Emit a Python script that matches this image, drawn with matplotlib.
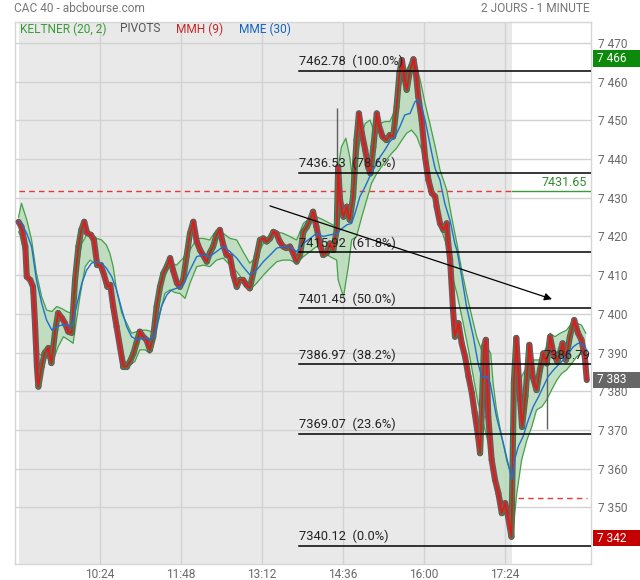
import matplotlib
matplotlib.use('Agg')
import matplotlib.pyplot as plt
import matplotlib.transforms as mtrans
from matplotlib.patches import Rectangle
from matplotlib.collections import LineCollection
import numpy as np

plt.rcParams['font.family'] = ['Roboto', 'DejaVu Sans']

# ---------------- data (minutes after 09:00, index points) ----------------
price_t = [0, 3, 7, 8.5, 12, 15, 17, 19, 20.5, 24, 27, 31, 34, 38, 41, 45, 48, 51.5, 55, 58.5,
           62, 65, 68, 71, 75, 78, 81.5, 85, 88.5, 92, 95, 98, 101.5, 105, 108.5, 112, 115.5, 119,
           122, 125.5, 129, 132.5, 136, 139.5, 143, 146.5, 150, 153.5, 157, 160, 164, 167, 170.5,
           174, 177.5, 181, 184.5, 188, 191, 195, 198, 201.5, 205, 208.5, 212, 215.5, 219, 222.5,
           226, 229, 232.5, 236, 239.5, 243, 246.5, 250, 253.5, 257, 260.5, 264, 267, 270.5, 274,
           277.5, 281, 284.5, 288, 291.5, 295, 298.5, 302, 305, 308.5, 312, 315.5, 319, 322.5, 326,
           329.5, 331, 333, 336.5, 340, 343, 346.5, 350, 352.5, 355.5, 359, 362, 364.5, 367.5, 371,
           373.5, 377, 381, 384.5, 388, 391.5, 394.5, 397, 399, 402, 405.5, 409, 411.5, 414, 417.5,
           421, 424.5, 428, 431.5, 433, 436.5, 440, 443.5, 445, 447, 450, 452, 455.5, 459, 462.5,
           466, 469.5, 472.5, 476, 478, 479.5, 482, 484, 486.5, 490, 493.5, 497, 500.5, 504, 507,
           510.5, 513, 515.5, 519.5, 521.5, 525, 529, 532.5, 536.5, 540, 543.5, 547, 550.5, 554,
           558, 563.5, 567, 571, 575.5, 579.5, 583, 586.5, 588.5]
price_v = [7423.8, 7422.5, 7417.4, 7409.6, 7408.8, 7407.0, 7397.6, 7386.4, 7381.2, 7386.4, 7389.9,
           7391.2, 7387.3, 7395.8, 7400.2, 7398.9, 7397.6, 7395.4, 7395.1, 7408.8, 7417.4, 7421.7,
           7423.8, 7420.9, 7420.4, 7419.1, 7412.6, 7412.6, 7410.1, 7407.0, 7407.5, 7401.9, 7396.7,
           7391.5, 7386.4, 7386.4, 7387.7, 7389.8, 7392.4, 7395.4, 7394.1, 7393.3, 7390.7, 7394.1,
           7401.9, 7407.0, 7410.5, 7412.2, 7414.4, 7411.3, 7408.0, 7407.0, 7408.8, 7414.8, 7420.8,
           7423.8, 7418.7, 7416.5, 7415.2, 7413.5, 7415.7, 7417.4, 7420.4, 7421.7, 7417.8, 7415.2,
           7414.8, 7410.1, 7407.0, 7408.8, 7408.8, 7407.5, 7406.6, 7410.5, 7414.8, 7419.1, 7419.5,
           7418.7, 7419.5, 7421.2, 7420.8, 7418.7, 7417.4, 7417.0, 7417.4, 7415.7, 7413.5, 7415.2,
           7421.2, 7422.5, 7424.3, 7426.4, 7422.5, 7418.2, 7415.2, 7415.7, 7418.2, 7416.5, 7421.7,
           7438.0, 7429.4, 7425.1, 7427.7, 7424.3, 7430.3, 7444.9, 7451.8, 7446.7, 7442.4, 7438.0,
           7436.3, 7443.2, 7451.8, 7448.4, 7445.8, 7444.9, 7446.2, 7445.8, 7453.5, 7462.2, 7465.6,
           7462.2, 7457.9, 7463.0, 7465.8, 7462.2, 7456.1, 7450.1, 7440.6, 7434.6, 7431.2, 7430.3,
           7427.7, 7423.4, 7421.7, 7423.4, 7418.2, 7413.9, 7401.0, 7394.1, 7397.6, 7392.4, 7388.9,
           7383.8, 7379.5, 7374.3, 7368.3, 7364.0, 7373.4, 7391.5, 7393.3, 7373.4, 7362.3, 7357.1,
           7353.6, 7348.5, 7351.1, 7347.6, 7342.4, 7382.1, 7393.8, 7377.8, 7370.8, 7378.8, 7392.0,
           7383.8, 7380.3, 7385.5, 7389.8, 7387.2, 7394.1, 7389.8, 7387.7, 7392.4, 7388.1, 7394.1,
           7398.4, 7395.0, 7393.3, 7388.9, 7382.9]

upper_t = [0, 3, 8.5, 13.5, 18.5, 24, 29, 34.5, 39.5, 44.5, 50, 55, 60, 65.5, 70.5, 75.5, 81, 86,
           91, 94.5, 98, 101.5, 107, 112, 117, 122.5, 127.5, 132.5, 138, 143, 148, 153.5, 158.5,
           163.5, 170.5, 177.5, 184.5, 191.5, 198, 205, 212, 219, 226, 232.5, 239.5, 246.5, 253.5,
           260.5, 267.5, 274, 281, 288, 295, 302, 308.5, 315.5, 322.5, 329.5, 331, 334.5, 339, 343,
           346.5, 350, 353.5, 359, 364, 369, 374.5, 379.5, 384.5, 390, 395, 400, 405.5, 410.5, 416,
           421, 426, 431.5, 436.5, 443.5, 448.5, 454, 459, 464, 469.5, 474.5, 479.5, 485, 489,
           491.5, 495, 500.5, 505.5, 509.5, 512, 514, 516, 521, 526.5, 533, 540, 547, 550.5, 555.5,
           561, 567.5, 573, 578, 583, 587.5]
upper_v = [7425.0, 7428.6, 7424.3, 7419.1, 7410.5, 7404.4, 7401.0, 7400.6, 7401.9, 7401.4, 7400.6,
           7400.1, 7409.6, 7418.2, 7420.4, 7420.8, 7419.5, 7419.1, 7417.8, 7415.7, 7412.2, 7406.2,
           7400.1, 7397.6, 7395.0, 7395.4, 7395.8, 7395.8, 7395.4, 7401.9, 7408.8, 7412.2, 7413.1,
           7412.6, 7414.4, 7416.5, 7419.5, 7419.5, 7419.1, 7421.7, 7420.8, 7419.5, 7419.1, 7416.1,
           7413.1, 7414.8, 7418.2, 7420.0, 7421.2, 7420.8, 7420.0, 7419.1, 7423.4, 7424.7, 7425.1,
           7424.3, 7423.4, 7422.5, 7438.0, 7443.2, 7445.4, 7440.6, 7433.7, 7438.0, 7444.9, 7449.2,
           7450.1, 7446.7, 7449.2, 7449.7, 7449.7, 7452.7, 7458.7, 7462.2, 7464.8, 7465.6, 7460.4,
           7454.4, 7449.2, 7443.2, 7437.2, 7432.0, 7425.1, 7418.2, 7411.3, 7405.3, 7399.3, 7394.1,
           7390.7, 7391.5, 7389.8, 7382.1, 7375.2, 7368.3, 7362.2, 7358.8, 7357.5, 7379.5, 7380.3,
           7383.8, 7386.4, 7388.1, 7388.1, 7391.5, 7395.0, 7394.1, 7395.0, 7395.8, 7397.6, 7397.6,
           7397.1, 7395.0]

lower_t = [0, 1.5, 6.5, 12, 17, 20.5, 25.5, 31, 36, 41, 46.5, 51.5, 56.5, 60, 63.5, 69, 74, 79,
           84.5, 89.5, 94.5, 100, 105, 110, 115.5, 120.5, 125.5, 131, 136, 141.5, 146.5, 151.5,
           157, 162, 167, 172.5, 177.5, 184.5, 191.5, 198, 205, 212, 219, 226, 232.5, 239.5, 246.5,
           253.5, 260.5, 267.5, 274, 281, 288, 295, 302, 308.5, 315.5, 322.5, 329.5, 331, 336.5,
           341.5, 345, 350, 355.5, 360.5, 365.5, 371, 376, 381, 386.5, 391.5, 397, 402, 407, 412.5,
           417.5, 422.5, 428, 433, 438, 443.5, 448.5, 454, 460.5, 466, 471, 476, 481.5, 486.5,
           491.5, 497, 502, 507, 512, 516, 521, 526.5, 531.5, 536.5, 542, 547, 552, 557.5, 562.5,
           567.5, 573, 578, 583, 587.5]
lower_v = [7421.2, 7420.4, 7414.8, 7408.8, 7395.8, 7389.8, 7388.9, 7388.5, 7388.1, 7391.5, 7394.1,
           7393.3, 7392.4, 7398.4, 7404.4, 7412.2, 7413.9, 7413.1, 7411.8, 7408.8, 7406.2, 7400.1,
           7392.4, 7387.7, 7386.8, 7387.7, 7390.7, 7390.7, 7389.8, 7394.1, 7400.1, 7405.3, 7406.2,
           7405.5, 7405.3, 7404.0, 7407.9, 7412.2, 7412.6, 7412.2, 7413.9, 7414.4, 7412.6, 7410.9,
           7408.8, 7406.2, 7407.9, 7410.0, 7411.8, 7413.5, 7413.9, 7413.9, 7413.1, 7414.8, 7416.1,
           7417.4, 7416.1, 7414.8, 7413.9, 7408.8, 7404.4, 7412.2, 7419.1, 7420.0, 7425.1, 7429.4,
           7433.7, 7436.3, 7438.0, 7439.8, 7441.5, 7442.8, 7444.9, 7446.7, 7447.5, 7445.8, 7442.4,
           7437.2, 7432.0, 7426.8, 7421.7, 7417.5, 7410.5, 7405.3, 7397.6, 7390.7, 7383.8, 7376.9,
           7371.7, 7366.6, 7359.7, 7354.5, 7351.0, 7347.6, 7343.3, 7353.6, 7362.2, 7367.4, 7370.8,
           7375.2, 7376.0, 7377.8, 7380.3, 7382.9, 7384.6, 7385.5, 7387.2, 7388.9, 7389.8, 7388.1]

ema_t = [0, 3, 8.5, 13.5, 18.5, 24, 29, 34.5, 39.5, 44.5, 50, 55, 60, 65.5, 70.5, 75.5, 81, 86, 91,
         96.5, 101.5, 107, 112, 117, 122.5, 127.5, 132.5, 138, 143, 148, 153.5, 158.5, 163.5,
         170.5, 177.5, 184.5, 191.5, 198, 205, 212, 219, 226, 232.5, 239.5, 246.5, 253.5, 260.5,
         267.5, 274, 281, 288, 295, 302, 308.5, 315.5, 322.5, 329.5, 333, 340, 345, 348.5, 353.5,
         359, 364.5, 369, 374.5, 379.5, 384.5, 390, 395, 400, 405.5, 410.5, 414, 417.5, 421, 424.5,
         428, 431.5, 436.5, 441.5, 447, 452, 454, 459, 464, 471, 476, 479.5, 485, 488.5, 495, 502,
         507, 511, 514, 517.5, 522.5, 528, 533, 538.5, 543.5, 548.5, 554, 559, 564, 569.5, 574.5,
         579.5, 583, 586.5, 588.5]
ema_v = [7423.8, 7423.4, 7420.8, 7417.4, 7408.8, 7402.7, 7398.4, 7395.8, 7396.7, 7397.1, 7397.1,
         7396.7, 7401.9, 7407.9, 7411.3, 7413.1, 7413.5, 7413.1, 7411.8, 7409.6, 7406.2, 7401.0,
         7396.7, 7394.1, 7393.3, 7393.7, 7393.7, 7393.3, 7396.7, 7401.9, 7404.9, 7406.2, 7406.6,
         7407.5, 7411.3, 7414.8, 7415.2, 7414.8, 7416.1, 7417.4, 7416.1, 7414.4, 7412.2, 7410.1,
         7411.3, 7413.5, 7415.2, 7417.0, 7417.4, 7417.2, 7416.1, 7418.2, 7419.5, 7420.8, 7420.0,
         7420.4, 7420.8, 7421.7, 7423.0, 7423.4, 7426.0, 7430.3, 7432.9, 7435.9, 7438.0, 7440.6,
         7442.4, 7444.5, 7445.8, 7448.4, 7451.4, 7451.8, 7454.8, 7455.3, 7453.5, 7450.1, 7445.8,
         7441.5, 7437.5, 7434.5, 7428.5, 7424.0, 7418.0, 7416.5, 7409.6, 7401.9, 7394.1, 7387.2,
         7383.8, 7383.8, 7382.1, 7373.4, 7366.6, 7361.4, 7357.3, 7362.5, 7365.7, 7368.3, 7372.6,
         7376.0, 7378.6, 7381.2, 7383.8, 7385.5, 7386.8, 7388.1, 7389.8, 7391.5, 7392.4, 7392.4,
         7391.1, 7390.7]

wick_t = [330, 547]
wick_hi = [7453.2, 7389.9]
wick_lo = [7422.4, 7370.3]

fib_values = [7462.78, 7436.53, 7415.92, 7401.45, 7386.97, 7369.07, 7340.12]
fib_pcts = ["100.0%", "78.6%", "61.8%", "50.0%", "38.2%", "23.6%", "0.0%"]
fib_start = 290.5

pivot_main = 7431.65
pivot_low = 7352.3
pivot_label = "7386.79"
pivot_label_value = 7386.79

trend_start = (260.4, 7427.9)
trend_end = (552.5, 7403.8)

price_boxes = [7466, 7383, 7342]
price_box_colors = ['#0b8a0b', '#666666', '#c40000']

xtick_pos = [84, 168, 252, 336, 420, 504]
xtick_lab = ["10:24", "11:48", "13:12", "14:36", "16:00", "17:24"]
ytick_vals = [7350, 7360, 7370, 7380, 7390, 7400, 7410, 7420, 7430, 7440, 7450, 7460, 7470]

session_end = 511
x_min, x_max = -4, 593.3
y_min, y_max = 7335.5, 7475.5

# ---------------- figure ----------------
fig = plt.figure(figsize=(6.4, 5.8), dpi=100)
ax = fig.add_axes([14.7 / 640, 1 - 563.5 / 580, (591.4 - 14.7) / 640, (563.5 - 21.7) / 580])
ax.set_xlim(x_min, x_max)
ax.set_ylim(y_min, y_max)
ax.set_facecolor('white')
ax.axvspan(0, session_end, color='#e9e9e9', zorder=0, lw=0)

for s in ax.spines.values():
    s.set_color('#d6d6d6')
    s.set_linewidth(1)

grid_c = '#d2d2d2'
for v in ytick_vals:
    ax.axhline(v, color=grid_c, lw=1, zorder=0.5)
for t in xtick_pos:
    ax.axvline(t, color=grid_c, lw=1, zorder=0.5)

ax.yaxis.tick_right()
ax.set_yticks(ytick_vals)
ax.set_yticklabels([f"{v:,}".replace(",", " ") for v in ytick_vals])
ax.set_xticks(xtick_pos)
ax.set_xticklabels(xtick_lab)
ax.tick_params(axis='y', length=0, pad=4.5, labelsize=8.6, labelcolor='#6a6a6a')
ax.tick_params(axis='x', length=0, pad=3, labelsize=8.6, labelcolor='#6a6a6a')

# Keltner band
band_x = list(upper_t) + list(lower_t[::-1])
band_y = list(upper_v) + list(lower_v[::-1])
ax.fill(band_x, band_y, color='#bcdcbc', alpha=0.9, lw=0, zorder=1)
ax.plot(upper_t, upper_v, color='#43a047', lw=0.9, zorder=1.5)
ax.plot(lower_t, lower_v, color='#43a047', lw=0.9, zorder=1.5)

# wicks
ax.vlines(wick_t, wick_lo, wick_hi, color='#606060', lw=1, zorder=2)

# candle ribbon: segments between consecutive price points, coloured by direction
pt = np.array(price_t, dtype=float)
pv = np.array(price_v, dtype=float)
pts = np.column_stack([pt, pv])
segs = np.stack([pts[:-1], pts[1:]], axis=1)
up = pv[1:] >= pv[:-1]
seg_cols = np.where(up, '#4d7d4d', '#9e4545')
ax.add_collection(LineCollection(segs, colors='#5c5c5c', linewidths=4.4, zorder=2.8,
                                 capstyle='round', joinstyle='round'))
ax.add_collection(LineCollection(segs, colors=seg_cols, linewidths=3.2, zorder=3,
                                 capstyle='round', joinstyle='round'))

# MMH red line
ax.plot(pt, pv, color='#e01818', lw=1.2, zorder=4)

# MME blue line
ax.plot(ema_t, ema_v, color='#1f6fd1', lw=1.0, zorder=5)

# pivots
ax.plot([0, session_end], [pivot_main, pivot_main], color='#e53935', lw=1, ls=(0, (4, 3)), zorder=2)
ax.plot([session_end, x_max], [pivot_main, pivot_main], color='#3c9a3c', lw=1, zorder=2)
ax.text(x_max - 4.5, pivot_main + 0.6, f"{pivot_main:.2f}", color='#2e8b2e', fontsize=9,
        ha='right', va='bottom', zorder=7)
ax.plot([517.5, 588.4], [pivot_low, pivot_low], color='#e53935', lw=1, ls=(0, (4, 3)), zorder=2)

# Fibonacci levels
for val, pct in zip(fib_values, fib_pcts):
    ax.plot([fib_start, x_max], [val, val], color='black', lw=1.1, zorder=6)
    ax.text(fib_start, val + 0.7, f"{val:.2f}  ({pct})", color='#222222', fontsize=9.3,
            ha='left', va='bottom', zorder=7)
ax.text(x_max - 1, pivot_label_value + 0.7, pivot_label, color='#222222', fontsize=9.3,
        ha='right', va='bottom', zorder=7)

# trend line with arrow
ax.annotate('', xy=trend_end, xytext=trend_start,
            arrowprops=dict(arrowstyle='-|>', color='black', lw=0.9, mutation_scale=11,
                            shrinkA=0, shrinkB=0), zorder=7)

# right price boxes
btr = mtrans.blended_transform_factory(ax.transAxes, ax.transData)
for val, col in zip(price_boxes, price_box_colors):
    ax.add_patch(Rectangle((1.003, val - 2.1), 0.095, 4.2, transform=btr, facecolor=col,
                           edgecolor='none', clip_on=False, zorder=10))
    ax.text(1.01, val, f"{val:,}".replace(",", " "), transform=btr, color='white',
            fontsize=8.6, ha='left', va='center', clip_on=False, zorder=11)

# header texts
fig.text(14 / 640, 1 - 8.5 / 580, "CAC 40 - abcbourse.com", color='#777777', fontsize=8.6,
         ha='left', va='center')
fig.text(590 / 640, 1 - 8.5 / 580, "2 JOURS - 1 MINUTE", color='#777777', fontsize=8.6,
         ha='right', va='center')
legend_items = [("KELTNER (20, 2)", '#3a9a3a', 20), ("PIVOTS", '#555555', 120),
                ("MMH (9)", '#c62828', 176), ("MME (30)", '#1565c0', 239)]
for txt, col, xp in legend_items:
    fig.text(xp / 640, 1 - 29 / 580, txt, color=col, fontsize=8.6, ha='left', va='center')

fig.savefig('out.png', dpi=100)
